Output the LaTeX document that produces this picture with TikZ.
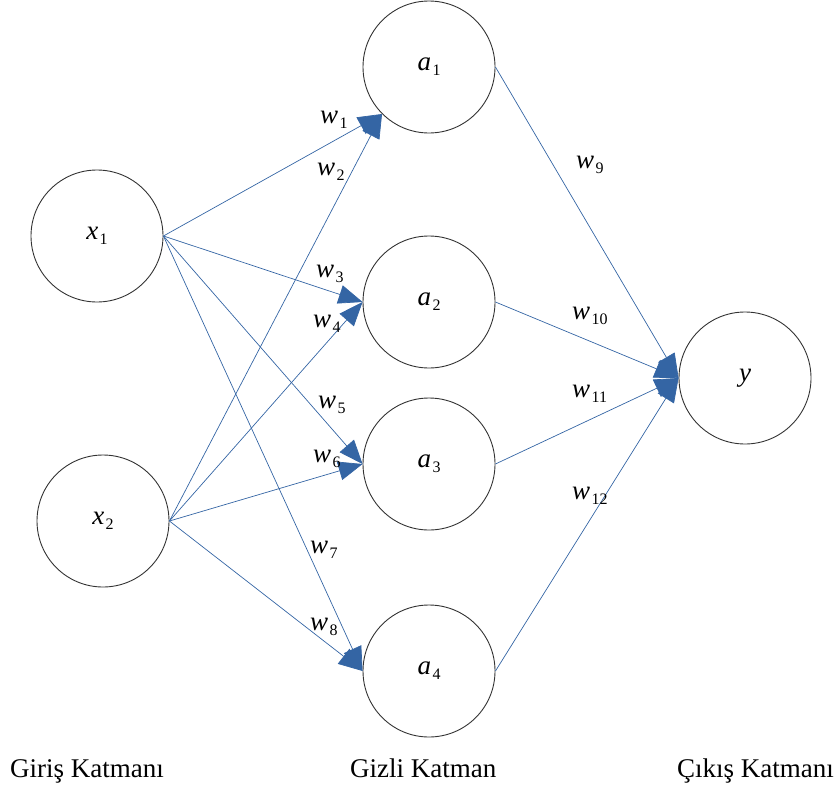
\documentclass[tikz,border=0pt]{standalone}
\usepackage{fontspec}
\setmainfont{Liberation Serif}
\usetikzlibrary{arrows.meta}
\definecolor{linkblue}{HTML}{3465A4}
\definecolor{rimgray}{HTML}{333333}
% italic symbol with a lowered index
\newcommand\idxsym[2]{\textit{#1}\kern1.5pt\raisebox{-5pt}{\fontsize{16}{16}\selectfont #2}}
\begin{document}
\begin{tikzpicture}[x=1pt,y=-1pt,
  unit/.style={circle,draw=rimgray,line width=0.9pt,minimum size=132pt,inner sep=0pt,
    font=\fontsize{27}{30}\selectfont},
  link/.style={draw=linkblue,line width=0.7pt,
    -{Triangle[length=24pt,width=19pt,fill=linkblue]}},
  wlabel/.style={anchor=base west,inner sep=0pt,font=\fontsize{27}{30}\selectfont},
  layer/.style={anchor=base west,inner sep=0pt,font=\fontsize{27}{30}\selectfont}]
\useasboundingbox (0,0) rectangle (837,787);

% neurons
\node[unit] (x1) at (97,236) {\raisebox{-4pt}{\idxsym{x}{1}}};
\node[unit] (x2) at (103,521) {\raisebox{-4pt}{\idxsym{x}{2}}};
\node[unit] (a1) at (429,67) {\raisebox{-4pt}{\idxsym{a}{1}}};
\node[unit] (a2) at (429,302) {\raisebox{-4pt}{\idxsym{a}{2}}};
\node[unit] (a3) at (429,464) {\raisebox{-4pt}{\idxsym{a}{3}}};
\node[unit] (a4) at (429,671) {\raisebox{-4pt}{\idxsym{a}{4}}};
\node[unit] (y) at (745,378) {\textit{y}};

% input to hidden weights
\draw[link] (x1.east) -- (a1.225);
\draw[link] (x2.east) -- (a1.225);
\draw[link] (x1.east) -- (a2.west);
\draw[link] (x2.east) -- (a2.west);
\draw[link] (x1.east) -- (a3.west);
\draw[link] (x2.east) -- (a3.west);
\draw[link] (x1.east) -- (a4.west);
\draw[link] (x2.east) -- (a4.west);

% hidden to output weights
\draw[link] (a1.east) -- (y.west);
\draw[link] (a2.east) -- (y.west);
\draw[link] (a3.east) -- (y.west);
\draw[link] (a4.east) -- (y.west);

% weight labels
\node[wlabel] (w1) at (320,123) {\idxsym{w}{1}};
\node[wlabel] (w2) at (317,175) {\idxsym{w}{2}};
\node[wlabel] (w3) at (316,277) {\idxsym{w}{3}};
\node[wlabel] (w4) at (313,327) {\idxsym{w}{4}};
\node[wlabel] (w5) at (318,408) {\idxsym{w}{5}};
\node[wlabel] (w6) at (313,462) {\idxsym{w}{6}};
\node[wlabel] (w7) at (310,553) {\idxsym{w}{7}};
\node[wlabel] (w8) at (310,630) {\idxsym{w}{8}};
\node[wlabel] (w9) at (576,168) {\idxsym{w}{9}};
\node[wlabel] (w10) at (572,319) {\idxsym{w}{10}};
\node[wlabel] (w11) at (572,397) {\idxsym{w}{11}};
\node[wlabel] (w12) at (572,499) {\idxsym{w}{12}};

% layer captions
\node[layer] (lin) at (10,777) {Giriş Katmanı};
\node[layer] (lhid) at (350,777) {Gizli Katman};
\node[layer] (lout) at (677,777) {Çıkış Katmanı};
\end{tikzpicture}
\end{document}
